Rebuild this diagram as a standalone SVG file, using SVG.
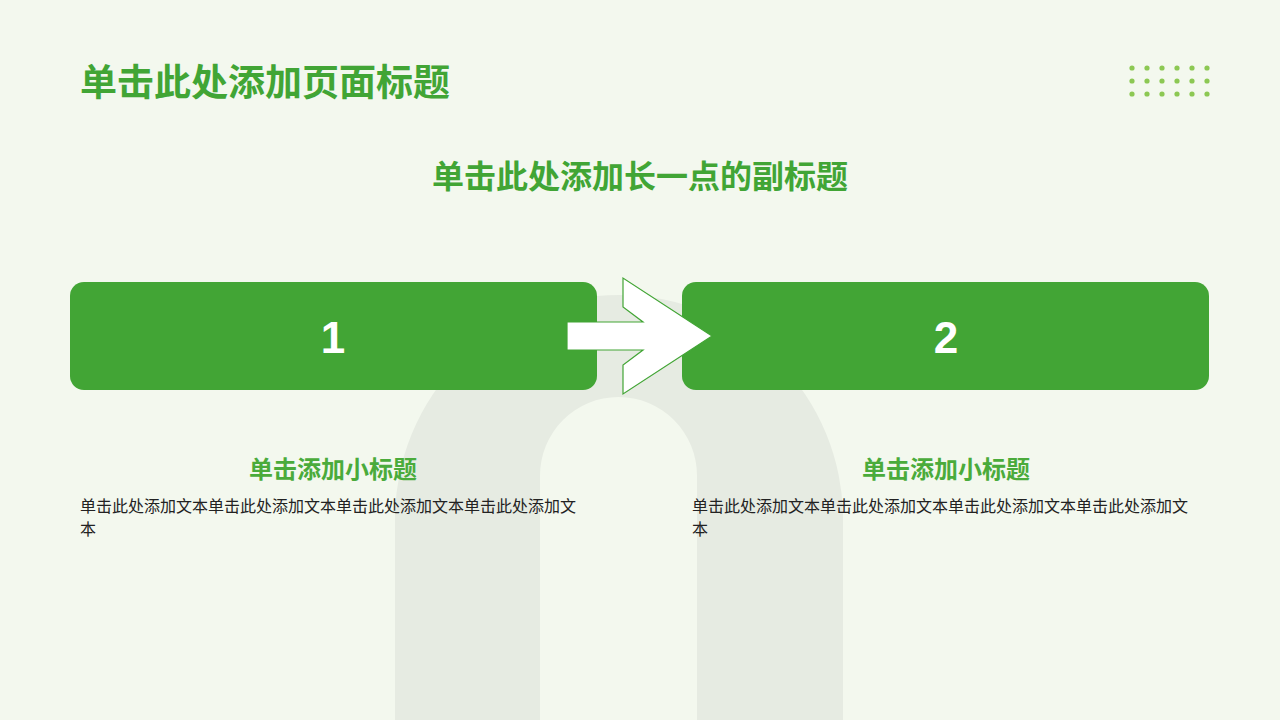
<svg xmlns="http://www.w3.org/2000/svg" width="1280" height="720" viewBox="0 0 1280 720">
  <style>
    .cjk { font-family: "Noto Sans CJK SC", "Noto Sans", sans-serif; }
    .title { font-size: 37px; font-weight: 700; fill: #41a535; }
    .sub { font-size: 32px; font-weight: 700; fill: #41a535; }
    .box { fill: #42a535; }
    .num { font-family: "Liberation Sans", Arial, sans-serif; font-size: 44px; font-weight: 700; fill: #ffffff; }
    .h { font-size: 24px; font-weight: 700; fill: #4aab3b; }
    .body { font-size: 16px; fill: #222222; }
    .dot { fill: #8cc853; }
  </style>
  <rect x="0" y="0" width="1280" height="720" fill="#f3f8ee"/>
  <g id="arch">
    <path d="M395,720 L395,519 A224,224 0 0 1 843,519 L843,720 L697,720 L697,475.5 A78.5,78.5 0 0 0 540,475.5 L540,720 Z" fill="#e6ebe2"/>
  </g>
  <g id="title">
    <text class="cjk title" x="80" y="96">单击此处添加页面标题</text>
  </g>
  <g id="dots">
    <g class="dot">
      <circle cx="1132" cy="68" r="2.6"/><circle cx="1147" cy="68" r="2.6"/><circle cx="1162" cy="68" r="2.6"/><circle cx="1177" cy="68" r="2.6"/><circle cx="1192" cy="68" r="2.6"/><circle cx="1207" cy="68" r="2.6"/>
      <circle cx="1132" cy="81" r="2.6"/><circle cx="1147" cy="81" r="2.6"/><circle cx="1162" cy="81" r="2.6"/><circle cx="1177" cy="81" r="2.6"/><circle cx="1192" cy="81" r="2.6"/><circle cx="1207" cy="81" r="2.6"/>
      <circle cx="1132" cy="94" r="2.6"/><circle cx="1147" cy="94" r="2.6"/><circle cx="1162" cy="94" r="2.6"/><circle cx="1177" cy="94" r="2.6"/><circle cx="1192" cy="94" r="2.6"/><circle cx="1207" cy="94" r="2.6"/>
    </g>
  </g>
  <g id="subtitle">
    <text class="cjk sub" x="640" y="188" text-anchor="middle">单击此处添加长一点的副标题</text>
  </g>
  <g id="node1">
    <rect class="box" x="70" y="282" width="527" height="108" rx="14"/>
    <text class="num" x="333" y="353" text-anchor="middle">1</text>
  </g>
  <g id="node2">
    <rect class="box" x="682" y="282" width="527" height="108" rx="14"/>
    <text class="num" x="946" y="353" text-anchor="middle">2</text>
  </g>
  <g id="connectors">
    <path d="M567,322 L643,322 L623,307 L623,278 L712,336 L623,394 L623,365 L643,350 L567,350 Z" fill="#ffffff" stroke="#42a535" stroke-width="1.2" stroke-linejoin="miter"/>
  </g>
  <g id="text1">
    <text class="cjk h" x="333" y="478" text-anchor="middle">单击添加小标题</text>
    <text class="cjk body" x="80" y="512">单击此处添加文本单击此处添加文本单击此处添加文本单击此处添加文</text>
    <text class="cjk body" x="80" y="535">本</text>
  </g>
  <g id="text2">
    <text class="cjk h" x="946" y="478" text-anchor="middle">单击添加小标题</text>
    <text class="cjk body" x="692" y="512">单击此处添加文本单击此处添加文本单击此处添加文本单击此处添加文</text>
    <text class="cjk body" x="692" y="535">本</text>
  </g>
</svg>
